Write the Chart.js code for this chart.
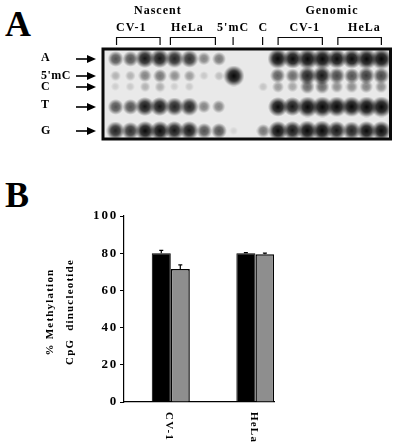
<!DOCTYPE html>
<html>
<head>
<meta charset="utf-8">
<script src="https://cdn.jsdelivr.net/npm/chart.js@4"></script>
<style>
  html, body { margin: 0; padding: 0; background: #fff; }
  body { width: 400px; height: 448px; position: relative; overflow: hidden; }
  .panel { position: absolute; left: 5px; font: bold 36px "Liberation Serif", serif; line-height: 36px; color: #000; }
  canvas { display: block; }
  #gelBox { position: absolute; left: 0; top: 0; width: 400px; height: 150px; }
  #barBox { position: absolute; left: 0; top: 150px; width: 400px; height: 298px; }
</style>
</head>
<body>
<div class="panel" style="top:6px">A</div>
<div class="panel" style="top:177px">B</div>
<div id="gelBox"><canvas id="gelChart" width="400" height="150"></canvas></div>
<div id="barBox"><canvas id="barChart" width="400" height="298"></canvas></div>
<script>
const serif = '"Liberation Serif", serif';

// panel A, spot strength per lane (0 = no spot)
const rowNames = ["A", "5'mC", "C", "T", "G"];
const rowLabelY = [58, 76, 87, 105, 131];
const rowPos = [9, 26, 37, 57, 81];
const spotsA = [.6, .6, .85, .85, .8, .75, .4, .45, 0, 0, 0, .95, .9, 1, 1, .9, .9, 1, 1];
const spots5mC = [.2, .2, .4, .45, .35, .3, .1, .15, 1, 0, 0, .55, .5, .8, .85, .65, .6, .7, .65];
const spotsC = [.08, .1, .2, .22, .08, .1, 0, 0, 0, 0, .12, .3, .25, .5, .5, .35, .35, .4, .35];
const spotsT = [.6, .6, .85, .85, .8, .8, .4, .4, 0, 0, 0, .9, .85, 1, 1, .95, .95, 1, 1];
const spotsG = [.8, .75, .9, .9, .85, .85, .6, .6, .05, 0, .45, .9, .85, .95, .95, .85, .8, .9, .9];
const spotRows = [spotsA, spots5mC, spotsC, spotsT, spotsG];

const topLabels = ["Nascent", "Genomic"];
const topLabelLanes = [2.85, 14.65];
const laneLabels = ["CV-1", "HeLa", "5'mC", "C", "CV-1", "HeLa"];
const laneLabelLanes = [1.05, 4.85, 7.95, 10, 12.8, 16.85];
const bracketStart = [0.05, 3.7, 11, 15.05];
const bracketEnd = [3, 6.75, 14, 18];
const laneMarks = [7.95, 9.95];

// panel B
const barCats = ["CV-1", "HeLa"];
const blackVals = [80, 80];
const grayVals = [71.5, 79.5];
const blackErr = [1.5, 0.3];
const grayErr = [2.2, 0.5];
const yTicks = [0, 20, 40, 60, 80, 100];
const yTitleLines = ["% Methylation", "CpG  dinucleotide"];

Chart.defaults.animation = false;
Chart.defaults.responsive = false;

function spotImage(r, a) {
  const c = document.createElement("canvas");
  c.width = c.height = Math.ceil(r * 2);
  const g = c.getContext("2d");
  const grad = g.createRadialGradient(r, r, 0, r, r, r);
  grad.addColorStop(0, `rgba(5,5,5,${a})`);
  grad.addColorStop(0.5, `rgba(5,5,5,${a * 0.8})`);
  grad.addColorStop(1, "rgba(5,5,5,0)");
  g.fillStyle = grad;
  g.fillRect(0, 0, c.width, c.height);
  return c;
}

// build the spots from the rows above
const spotData = [];
spotRows.forEach((row, i) => {
  row.forEach((v, lane) => {
    if (v > 0) spotData.push({ x: lane, y: rowPos[i], r: 4 + 6.5 * v, v: v });
  });
});

const gelPlugin = {
  id: "gelPlugin",
  beforeDraw(chart) {
    const { ctx, chartArea: a } = chart;
    ctx.fillStyle = "#e9e9e9";
    ctx.fillRect(a.left, a.top, a.width, a.height);
  },
  afterDraw(chart) {
    const { ctx, chartArea: a, scales } = chart;
    const x = scales.x, y = scales.y;
    ctx.save();
    ctx.strokeStyle = "#0a0a0a";
    ctx.lineWidth = 3;
    ctx.strokeRect(a.left - 1, a.top - 1, a.width + 2, a.height + 2);

    ctx.fillStyle = "#000";
    ctx.font = "bold 12px " + serif;
    ctx.letterSpacing = "1px";
    ctx.textAlign = "center";
    ctx.textBaseline = "middle";
    topLabels.forEach((t, i) => ctx.fillText(t, x.getPixelForValue(topLabelLanes[i]), 11));
    laneLabels.forEach((t, i) => ctx.fillText(t, x.getPixelForValue(laneLabelLanes[i]), 28));

    ctx.lineWidth = 1.2;
    bracketStart.forEach((s, i) => {
      const x0 = x.getPixelForValue(s), x1 = x.getPixelForValue(bracketEnd[i]);
      ctx.beginPath();
      ctx.moveTo(x0, 45); ctx.lineTo(x0, 37.5); ctx.lineTo(x1, 37.5); ctx.lineTo(x1, 45);
      ctx.stroke();
    });
    laneMarks.forEach(m => {
      const px = x.getPixelForValue(m);
      ctx.beginPath(); ctx.moveTo(px, 37); ctx.lineTo(px, 45); ctx.stroke();
    });

    // row names and arrows
    ctx.textAlign = "left";
    ctx.letterSpacing = "0.5px";
    rowNames.forEach((t, i) => {
      ctx.fillStyle = "#000";
      ctx.fillText(t, 41, rowLabelY[i]);
      const py = y.getPixelForValue(rowPos[i]);
      ctx.fillRect(76, py - 0.8, 14, 1.6);
      ctx.beginPath();
      ctx.moveTo(96, py); ctx.lineTo(87, py - 4); ctx.lineTo(87, py + 4);
      ctx.closePath(); ctx.fill();
    });
    ctx.restore();
  }
};

new Chart(document.getElementById("gelChart"), {
  type: "bubble",
  data: {
    datasets: [{
      data: spotData,
      pointStyle: c => {
        const d = c.raw;
        return d ? spotImage(d.r, Math.min(1, 0.04 + d.v * 1.05)) : "circle";
      },
      backgroundColor: "#000",
      borderWidth: 0
    }]
  },
  options: {
    layout: { padding: { left: 104, right: 10, top: 50, bottom: 12 } },
    plugins: { legend: { display: false }, tooltip: { enabled: false } },
    scales: {
      x: { type: "linear", display: false, min: -0.8, max: 18.55 },
      y: { type: "linear", display: false, min: 0, max: 88, reverse: true }
    }
  },
  plugins: [gelPlugin]
});

const barPlugin = {
  id: "barPlugin",
  beforeDraw(chart) { chart.ctx.letterSpacing = "1.8px"; },
  afterDatasetsDraw(chart) {
    const { ctx, scales } = chart;
    ctx.save();
    ctx.strokeStyle = "#000";
    ctx.lineWidth = 1.2;
    [[0, blackVals, blackErr], [1, grayVals, grayErr]].forEach(([ds, vals, errs]) => {
      chart.getDatasetMeta(ds).data.forEach((bar, i) => {
        const top = scales.y.getPixelForValue(vals[i] + errs[i]);
        const base = scales.y.getPixelForValue(vals[i]);
        ctx.beginPath();
        ctx.moveTo(bar.x, base); ctx.lineTo(bar.x, top);
        ctx.moveTo(bar.x - 2, top); ctx.lineTo(bar.x + 2, top);
        ctx.stroke();
      });
    });
    ctx.fillStyle = "#000";
    ctx.letterSpacing = "1.2px";
    ctx.font = "bold 11px " + serif;
    ctx.textBaseline = "middle";
    // category names read top to bottom
    ctx.textAlign = "left";
    barCats.forEach((t, i) => {
      ctx.save();
      ctx.translate(scales.x.getPixelForValue(i + 1) - 2, scales.y.bottom + 10);
      ctx.rotate(Math.PI / 2);
      ctx.fillText(t, 0, 0);
      ctx.restore();
    });
    // y title, two lines
    ctx.textAlign = "center";
    yTitleLines.forEach((t, i) => {
      ctx.save();
      ctx.translate(50 + i * 20, scales.y.getPixelForValue(50) + 3);
      ctx.rotate(-Math.PI / 2);
      ctx.fillText(t, 0, 0);
      ctx.restore();
    });
    ctx.restore();
  }
};

new Chart(document.getElementById("barChart"), {
  type: "bar",
  data: {
    datasets: [
      {
        data: blackVals.map((v, i) => ({ x: i + 1, y: v })),
        backgroundColor: "#000", borderColor: "#000", borderWidth: 1
      },
      {
        data: grayVals.map((v, i) => ({ x: i + 1, y: v })),
        backgroundColor: "#8e8e8e", borderColor: "#000", borderWidth: 1.5
      }
    ]
  },
  options: {
    layout: { padding: { left: 42, right: 126, top: 66, bottom: 46 } },
    plugins: { legend: { display: false }, tooltip: { enabled: false } },
    datasets: { bar: { categoryPercentage: 0.45, barPercentage: 1 } },
    scales: {
      x: {
        type: "linear", offset: false, min: 0.447, max: 2.22,
        grid: { display: false },
        border: { color: "#000", width: 1.2 },
        ticks: { display: false },
        afterFit: s => { s.height = 0; }
      },
      y: {
        min: 0, max: 100,
        afterFit: s => { s.width = 82; },
        afterBuildTicks: s => { s.ticks = yTicks.map(v => ({ value: v })); },
        border: { color: "#000", width: 1.2 },
        grid: { drawOnChartArea: false, color: "#000", tickLength: 4, lineWidth: 1 },
        ticks: { color: "#000", padding: 2, font: { family: serif, weight: "bold", size: 13 } }
      }
    }
  },
  plugins: [barPlugin]
});
</script>
</body>
</html>
